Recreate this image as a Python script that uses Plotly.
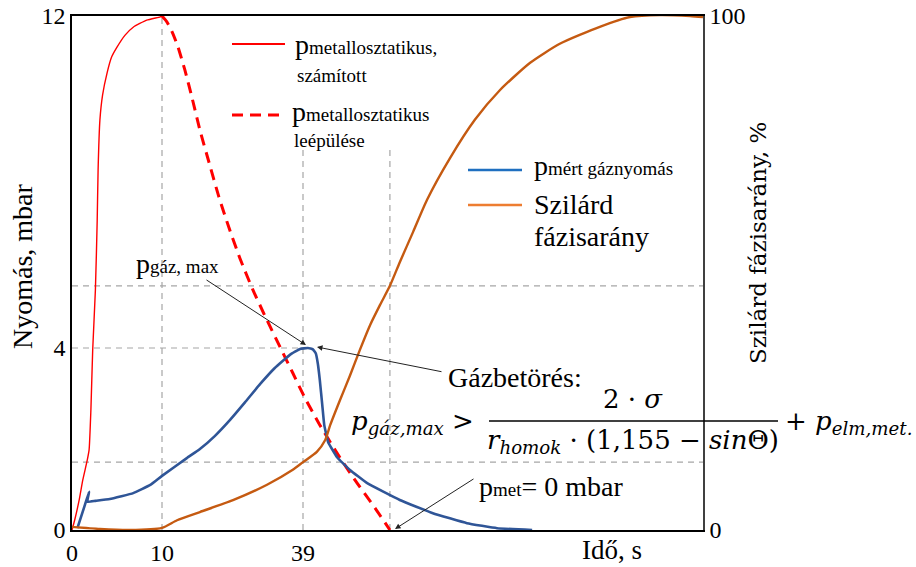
import numpy as np
import plotly.graph_objects as go

# ---------------------------------------------------------------------------
# Data (time in s, pressure in mbar, solid fraction in %)
# ---------------------------------------------------------------------------
# calculated metallostatic pressure (mould filling)
red_t = [0, 0.3, 0.8, 1.2, 1.7, 1.9, 2.1, 2.3, 2.6, 2.8, 2.9, 3.1, 3.4, 3.9,
         4.4, 5.0, 5.9, 6.8, 8.3, 9.8, 10]
red_p = [0, 0.22, 0.66, 1.10, 1.54, 1.76, 2.64, 3.96, 5.40, 7.08, 8.29, 9.49,
         10.10, 10.63, 11.01, 11.25, 11.54, 11.73, 11.90, 11.98, 12]

# decay of the metallostatic pressure
decay_t = [10, 11.0, 12.1, 13.3, 14.7, 16.2, 17.8, 19.7, 21.7, 23.8, 26.0,
           28.7, 31.6, 34.3, 36.9, 39.4, 42.4, 45.9, 49.5, 53.6, 56.6]
decay_p = [12, 11.86, 11.61, 11.25, 10.70, 10.02, 9.25, 8.46, 7.64, 6.89, 6.17,
           5.40, 4.67, 4.02, 3.45, 2.90, 2.31, 1.69, 1.10, 0.48, 0]

# measured gas pressure
gas_t = [0.6, 1.4, 1.9, 1.7, 2.6, 4.2, 6.8, 8.7, 10, 15.1, 17.8, 20.9, 24.0,
         27.1, 30.2, 33.2, 36.3, 38.4, 40.0, 41.0, 41.6, 42.0, 42.4, 42.9,
         43.3, 44.1, 45.9, 48.5, 52.0, 58.6, 65.3, 72.2, 78.3, 85.4]
gas_p = [0.04, 0.53, 0.84, 0.62, 0.64, 0.68, 0.81, 0.99, 1.19, 1.58, 1.78, 2.07,
         2.42, 2.81, 3.21, 3.56, 3.85, 3.98, 4.00, 3.97, 3.88, 3.66, 3.30, 2.75,
         2.31, 1.93, 1.60, 1.32, 1.03, 0.66, 0.37, 0.15, 0.04, 0]

# solid fraction
sol_t = [0, 3.1, 6.4, 10, 13.1, 17.8, 24.6, 31.6, 36.9, 39.0, 41.8, 43.5,
         44.5, 46.5, 48.5, 50.5, 52.6, 54.6, 56.6, 58.6, 61.3, 64.1, 68.8,
         73.8, 78.9, 85.0, 91.0, 99.1, 105.2, 111.3, 117.4, 120]
sol_pct = [0.6, 0.2, 0, 0.4, 1.9, 3.5, 5.8, 8.8, 11.7, 13.2, 15.2, 17.5,
           20.4, 25.3, 30.0, 35.0, 39.9, 43.8, 47.5, 52.1, 58.0, 64.2, 72.4,
           79.8, 85.6, 90.9, 94.6, 97.9, 99.8, 100.2, 100, 99.8]

# tick labels
x_ticks = [0, 10, 39]
y_ticks = [0, 4, 12]
y2_ticks = [0, 100]

t_breakthrough = 39      # time of gas breakthrough
t_pmet_zero = 56.6       # metallostatic pressure has vanished

# ---------------------------------------------------------------------------
# Stretched piecewise scales of the schematic axes
# ---------------------------------------------------------------------------
T_KNOTS, T_POS = [0, 10, 39, 120], [0, 90, 231, 631]
P_KNOTS, P_POS = [0, 4, 12], [0, 182, 514]


def tx(t):
    return np.interp(t, T_KNOTS, T_POS)


def py(p):
    return np.interp(p, P_KNOTS, P_POS)


W, H = 916, 567
ML, MR, MT, MB = 72, 213, 16, 37
PW, PH = W - ML - MR, H - MT - MB


def PX(x):
    return (x - ML) / PW


def PY(y):
    return (H - MB - y) / PH


SERIF = "Liberation Serif"
MATH = "DejaVu Serif"
RED = "#FF0000"
BLUE = "#2F5597"
ORANGE = "#C55A11"
GUIDE = dict(color="#A6A6A6", width=1.2, dash="6px,5px")

fig = go.Figure()
fig.add_trace(go.Scatter(x=tx(red_t), y=py(red_p), mode="lines",
                         line=dict(color=RED, width=1.4, shape="spline", smoothing=0.5),
                         name="p metallosztatikus, számított"))
fig.add_trace(go.Scatter(x=tx(decay_t), y=py(decay_p), mode="lines",
                         line=dict(color=RED, width=3, dash="11px,7px", shape="spline", smoothing=0.6),
                         name="p metallosztatikus leépülése"))
fig.add_trace(go.Scatter(x=tx(gas_t), y=py(gas_p), mode="lines",
                         line=dict(color=BLUE, width=2.6, shape="spline", smoothing=0.3),
                         name="p mért gáznyomás"))
fig.add_trace(go.Scatter(x=tx(sol_t), y=sol_pct, mode="lines", yaxis="y2",
                         line=dict(color=ORANGE, width=2.4, shape="spline", smoothing=0.6),
                         name="Szilárd fázisarány"))

# reading guides
sol_at_break = float(np.interp(t_breakthrough, sol_t, sol_pct))
sol_at_zero = float(np.interp(t_pmet_zero, sol_t, sol_pct))
shapes = [
    dict(type="line", xref="x", yref="y", x0=tx(10), x1=tx(10), y0=py(0), y1=py(12),
         line=GUIDE, layer="below"),
    dict(type="line", xref="x", yref="y", x0=tx(t_breakthrough), x1=tx(t_breakthrough),
         y0=py(0), y1=py(8.8), line=GUIDE, layer="below"),
    dict(type="line", xref="x", yref="y", x0=tx(t_pmet_zero), x1=tx(t_pmet_zero),
         y0=py(0), y1=py(8.8), line=GUIDE, layer="below"),
    dict(type="line", xref="x", yref="y", x0=tx(0), x1=tx(t_breakthrough),
         y0=py(4), y1=py(4), line=GUIDE, layer="below"),
    dict(type="line", xref="x", yref="y2", x0=tx(0), x1=tx(120),
         y0=sol_at_break, y1=sol_at_break, line=GUIDE, layer="below"),
    dict(type="line", xref="x", yref="y2", x0=tx(0), x1=tx(120),
         y0=sol_at_zero, y1=sol_at_zero, line=GUIDE, layer="below"),
]


# legend keys
def key(x0, x1, y, color, width, dash="solid"):
    return dict(type="line", xref="paper", yref="paper", x0=PX(x0), x1=PX(x1),
                y0=PY(y), y1=PY(y), line=dict(color=color, width=width, dash=dash))


shapes += [
    key(232, 285, 44, RED, 2),
    key(232, 281, 115, RED, 3, "11px,7px"),
    key(468, 522, 170, "#1F6FC0", 2.5),
    key(468, 522, 205, "#ED7D31", 2.5),
]
# fraction bar of the breakthrough criterion
shapes.append(dict(type="line", xref="paper", yref="paper", x0=PX(489), x1=PX(778),
                   y0=PY(421), y1=PY(421), line=dict(color="black", width=1.3)))

annotations = []


def label(text, x, y, size, xanchor="left", family=SERIF, angle=0):
    annotations.append(dict(text=text, x=PX(x), y=PY(y), xref="paper", yref="paper",
                            xanchor=xanchor, yanchor="middle", showarrow=False,
                            textangle=angle, font=dict(family=family, size=size, color="black")))


def arrow(x_tail, y_tail, x_head, y_head):
    annotations.append(dict(text="", x=PX(x_head), y=PY(y_head), xref="paper", yref="paper",
                            ax=x_tail - x_head, ay=y_tail - y_head, showarrow=True,
                            arrowhead=2, arrowsize=1.1, arrowwidth=1, arrowcolor="#222222",
                            standoff=0))


SUB = "<span style='font-size:19px'>{}</span>"
label("p" + SUB.format("metallosztatikus,"), 293, 44, 28)
label("számított", 295, 75, 19)
label("p" + SUB.format("metallosztatikus"), 290, 111, 28)
label("leépülése", 292, 140, 19)
label("p" + SUB.format("mért gáznyomás"), 532, 166, 28)
label("Szilárd", 532, 204, 28)
label("fázisarány", 532, 236, 28)

label("p" + SUB.format("gáz, max"), 134, 263, 28)
arrow(205, 279, 306, 345)
label("Gázbetörés:", 446, 378, 28)
arrow(443, 372, 317, 347)

label("<i>p</i><sub><i>gáz,max</i></sub> &gt;", 349, 422, 26, family=MATH)
label("2 · <i>σ</i>", 633, 399, 26, xanchor="center", family=MATH)
label("<i>r</i><sub><i>homok</i></sub> · (1,155 − <i>sin</i>Θ)", 633, 442, 26,
      xanchor="center", family=MATH)
label("+ <i>p</i><sub><i>elm,met.</i></sub>", 783, 422, 26, family=MATH)

label("p" + SUB.format("met") + "= 0 mbar", 477, 486, 28)
arrow(475, 478, 395, 529)

label("Idő, s", 612, 550, 27, xanchor="center")
label("Nyomás, mbar", 22, 266, 28, xanchor="center", angle=-90)
label("Szilárd fázisarány, %", 758, 243, 23, xanchor="center", family=MATH, angle=-90)

tickfont = dict(family=SERIF, size=24, color="black")
fig.update_layout(
    width=W, height=H, autosize=False,
    margin=dict(l=ML, r=MR, t=MT, b=MB, autoexpand=False),
    paper_bgcolor="white", plot_bgcolor="white",
    showlegend=False,
    xaxis=dict(range=[0, 631], tickvals=tx(x_ticks), ticktext=[str(v) for v in x_ticks],
               showline=True, linecolor="black", linewidth=1.5, mirror=True,
               showgrid=False, zeroline=False, ticks="", tickfont=tickfont),
    yaxis=dict(range=[0, 514], tickvals=py(y_ticks), ticktext=[str(v) for v in y_ticks],
               showline=True, linecolor="black", linewidth=1.5,
               showgrid=False, zeroline=False, ticks="", tickfont=tickfont),
    yaxis2=dict(range=[0, 100], tickvals=y2_ticks, overlaying="y", side="right",
                showline=True, linecolor="#404040", linewidth=1.5,
                showgrid=False, zeroline=False, ticks="", tickfont=tickfont),
    shapes=shapes,
    annotations=annotations,
)

fig.write_html("out.html")
